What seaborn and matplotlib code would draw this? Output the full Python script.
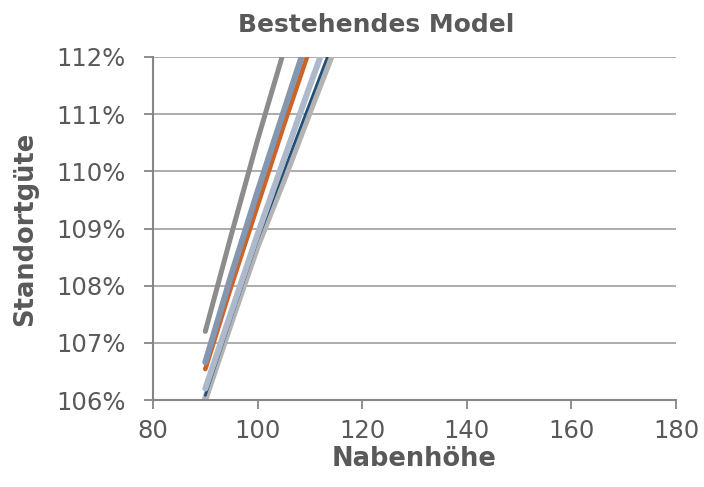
import matplotlib
matplotlib.use("Agg")
import matplotlib.pyplot as plt
from matplotlib.ticker import PercentFormatter, MultipleLocator
import seaborn as sns
import pandas as pd

# Hub heights (m) and site quality per scenario
nabenhoehe = [90, 95, 100, 105, 110, 120]

hellgrau = [1.0602, 1.0738, 1.0870, 1.0985, 1.1105, 1.1340]
dunkelblau = [1.0608, 1.0745, 1.0880, 1.1000, 1.1120, 1.1360]
hellblaugrau = [1.0620, 1.0755, 1.0890, 1.1020, 1.1150, 1.1400]
orange = [1.0654, 1.0800, 1.0940, 1.1080, 1.1215, 1.1480]
blaugrau = [1.0666, 1.0820, 1.0965, 1.1105, 1.1245, 1.1520]
dunkelgrau = [1.0720, 1.0890, 1.1055, 1.1210, 1.1360, 1.1640]

series = [
    ("Variante F", hellgrau, "#B3B3B3", 4.7),
    ("Variante E", dunkelblau, "#1F4E79", 1.9),
    ("Variante D", hellblaugrau, "#ADB9CA", 4.3),
    ("Variante C", orange, "#C9642B", 3.3),
    ("Variante B", blaugrau, "#8497B0", 4.3),
    ("Variante A", dunkelgrau, "#8C8C8C", 3.6),
]

frames = []
for name, vals, _, _ in series:
    frames.append(pd.DataFrame({"Nabenhöhe": nabenhoehe, "Standortgüte": vals, "Serie": name}))
df = pd.concat(frames, ignore_index=True)

sns.set_theme(style="white")
plt.rcParams["font.family"] = ["DejaVu Sans"]

fig = plt.figure(figsize=(7.04, 4.87), dpi=100)
ax = fig.add_axes([153 / 704, 1 - 400 / 487, (676 - 153) / 704, (400 - 57) / 487])

for name, _, color, lw in series:
    sub = df[df["Serie"] == name]
    sns.lineplot(data=sub, x="Nabenhöhe", y="Standortgüte", ax=ax, color=color,
                 linewidth=lw, legend=False, solid_capstyle="round")

ax.set_xlim(80, 180)
ax.set_ylim(1.06, 1.12)
ax.xaxis.set_major_locator(MultipleLocator(20))
ax.yaxis.set_major_locator(MultipleLocator(0.01))
ax.yaxis.set_major_formatter(PercentFormatter(1.0, decimals=0))

ax.grid(axis="y", color="#A6A6A6", linewidth=1.3)
ax.grid(axis="x", visible=False)
ax.set_axisbelow(True)
for s in ["top", "right"]:
    ax.spines[s].set_visible(False)
for s in ["left", "bottom"]:
    ax.spines[s].set_color("#868686")
    ax.spines[s].set_linewidth(1.5)

ax.tick_params(axis="both", direction="out", length=6.5, width=1.3, color="#868686",
               labelsize=17.5, labelcolor="#595959")
ax.tick_params(axis="y", pad=13)
ax.tick_params(axis="x", pad=7)
ax.tick_params(left=True, bottom=True)

ax.set_xlabel("")
ax.set_ylabel("")
fig.text(376 / 704, 1 - 31.5 / 487, "Bestehendes Model", ha="center", va="baseline",
         fontsize=18, fontweight="bold", color="#595959")
fig.text(414 / 704, 1 - 466 / 487, "Nabenhöhe", ha="center", va="baseline",
         fontsize=18.5, fontweight="bold", color="#595959")
fig.text(25 / 704, 1 - 229 / 487, "Standortgüte", ha="center", va="center",
         rotation=90, fontsize=18.5, fontweight="bold", color="#595959")

fig.savefig("out.png", dpi=100)
